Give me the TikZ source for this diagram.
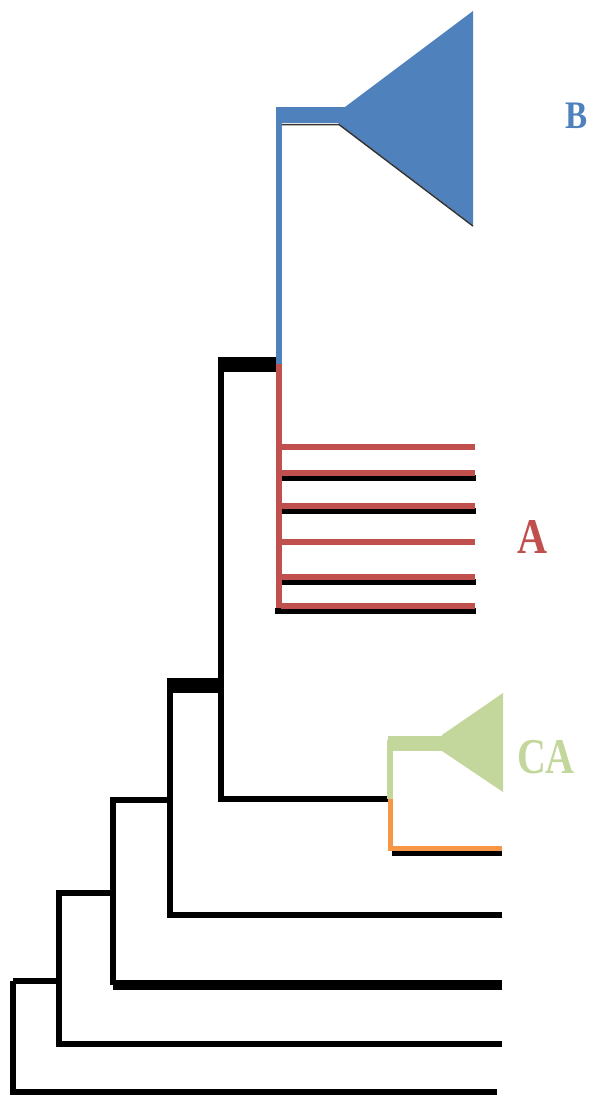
\documentclass[tikz,border=0pt]{standalone}
\usepackage{fontspec}
\setmainfont{Liberation Serif}
\definecolor{cladeB}{RGB}{79,129,189}
\definecolor{cladeA}{RGB}{192,80,77}
\definecolor{cladeCA}{RGB}{195,214,155}
\definecolor{outgrp}{RGB}{247,150,70}
\tikzset{
  branch/.style={line width=5.5pt},
  stem/.style={line width=15pt},
  cladelabel/.style={inner sep=0pt, font=\bfseries\fontsize{50}{50}\selectfont}
}
\begin{document}
\begin{tikzpicture}[x=1pt,y=-1pt]
  \useasboundingbox (0,0) rectangle (594,1098);
  \coordinate (j1) at (13,981);
  \coordinate (j2) at (59,981);
  \coordinate (j3) at (113,893);
  \coordinate (j4) at (170,800);
  \coordinate (j5) at (221,685);
  \coordinate (j6) at (279,364);
  \coordinate (j7) at (390,799);
  \coordinate (t1) at (497,1092);
  \coordinate (t2) at (502,1044);
  \coordinate (t3) at (502,985);
  \coordinate (t4) at (502,915);
  \coordinate (t5) at (502,848);
  \coordinate (tB) at (342,115);
  \coordinate (tCA) at (442,743);
  \draw [branch] (j1) |- (t1);
  \draw [branch] (j1) -- (j2);
  \draw [branch] (j2) |- (j3);
  \draw [branch] (j2) |- (t2);
  \draw [branch] (j3) |- (j4);
  \draw [branch] (j3) -- (j3 |- t3);
  \draw [line width=9.5pt] (j3 |- t3) -- (t3);
  \draw [branch] (j4) |- (j5);
  \draw [branch] (j4) |- (t4);
  \draw [stem] ([xshift=-3pt]j4 |- j5) -- (j5);
  \draw [branch] (j5) |- (j6);
  \draw [branch] (j5) |- (j7);
  \draw [stem] ([xshift=-3pt]j5 |- j6) -- (j6);
  \draw [branch,cladeB] (j6) |- (tB);
  \fill [cladeB] (276,107) rectangle (345,123);
  \fill [cladeB] (338,123) -- (345,107) -- (473,11) -- (473,225) -- cycle;
  \draw [line width=1.5pt,black!80] (282,124.5) -- (339,124.5) -- (473,226);
  \foreach \i/\y in {2/473,3/506,5/577,6/606}
    \draw [branch] (280,\y+5) -- (476,\y+5);
  \foreach \i/\y in {1/447,2/473,3/506,4/542,5/577,6/606} {
    \coordinate (a\i) at (475,\y);
    \draw [branch,cladeA] (j6) |- (a\i);
  }
  \fill (275,608) rectangle (281,614);
  \draw [branch,cladeCA] (j7) |- (tCA);
  \fill [cladeCA] (388,736) rectangle (442,751);
  \fill [cladeCA] (442,751) -- (442,735) -- (503,693) -- (503,792) -- cycle;
  \draw [line width=6pt] (392,853) -- (t5 |- 0,853);
  \draw [line width=5pt,outgrp] (j7) |- (t5);
  \node [cladelabel,cladeB,font=\bfseries\fontsize{39}{39}\selectfont] (labB) at (577,116) {\scalebox{0.85}[1]{B}};
  \node [cladelabel,cladeA] (labA) at (532,537) {\scalebox{0.83}[1]{A}};
  \node [cladelabel,cladeCA] (labCA) at (546,757) {\scalebox{0.8}[1]{CA}};
\end{tikzpicture}
\end{document}
